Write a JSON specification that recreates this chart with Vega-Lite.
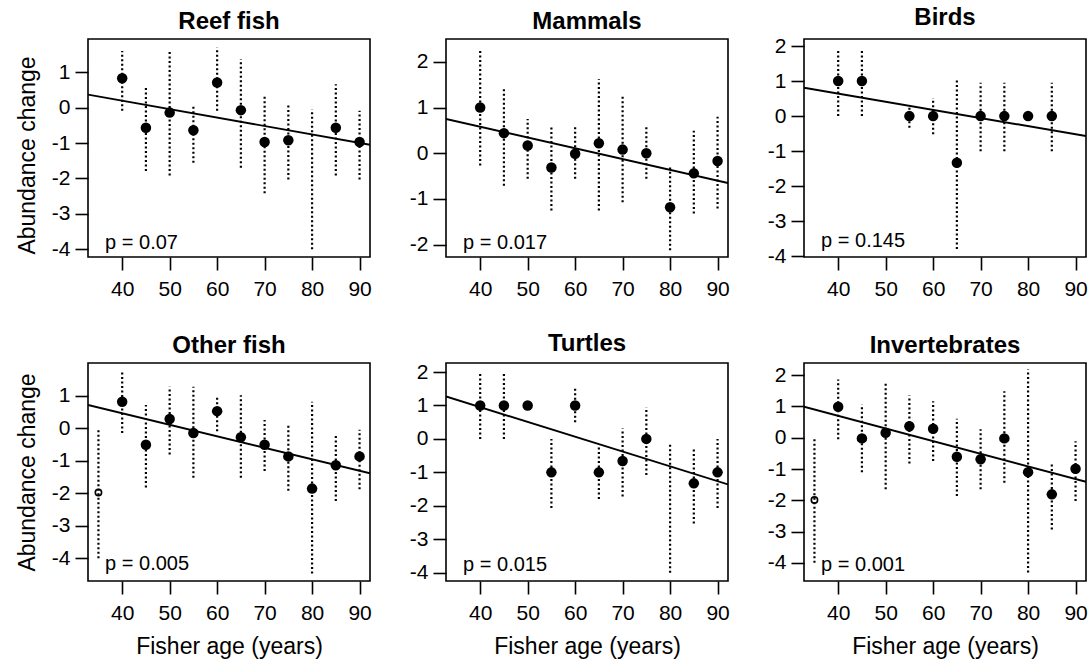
{
  "$schema": "https://vega.github.io/schema/vega-lite/v6.json",
  "background": "white",
  "padding": {"left": 15, "top": 5, "right": 0, "bottom": 0},
  "datasets": {
    "pts": [
      {"g": "Reef fish", "age": 40, "mean": 0.83, "lo": -0.09, "hi": 1.6, "open": false},
      {"g": "Reef fish", "age": 45, "mean": -0.57, "lo": -1.79, "hi": 0.57, "open": false},
      {"g": "Reef fish", "age": 50, "mean": -0.14, "lo": -1.92, "hi": 1.6, "open": false},
      {"g": "Reef fish", "age": 55, "mean": -0.64, "lo": -1.56, "hi": 0.09, "open": false},
      {"g": "Reef fish", "age": 60, "mean": 0.71, "lo": -0.09, "hi": 1.7, "open": false},
      {"g": "Reef fish", "age": 65, "mean": -0.07, "lo": -1.7, "hi": 1.37, "open": false},
      {"g": "Reef fish", "age": 70, "mean": -0.97, "lo": -2.42, "hi": 0.38, "open": false},
      {"g": "Reef fish", "age": 75, "mean": -0.92, "lo": -2.03, "hi": 0.09, "open": false},
      {"g": "Reef fish", "age": 80, "mean": null, "lo": -4.0, "hi": -0.05, "open": false},
      {"g": "Reef fish", "age": 85, "mean": -0.57, "lo": -1.92, "hi": 0.66, "open": false},
      {"g": "Reef fish", "age": 90, "mean": -0.97, "lo": -2.03, "hi": -0.09, "open": false},
      {"g": "Mammals", "age": 40, "mean": 1.0, "lo": -0.27, "hi": 2.24, "open": false},
      {"g": "Mammals", "age": 45, "mean": 0.44, "lo": -0.71, "hi": 1.45, "open": false},
      {"g": "Mammals", "age": 50, "mean": 0.17, "lo": -0.56, "hi": 0.75, "open": false},
      {"g": "Mammals", "age": 55, "mean": -0.31, "lo": -1.25, "hi": 0.58, "open": false},
      {"g": "Mammals", "age": 60, "mean": -0.01, "lo": -0.56, "hi": 0.58, "open": false},
      {"g": "Mammals", "age": 65, "mean": 0.22, "lo": -1.25, "hi": 1.62, "open": false},
      {"g": "Mammals", "age": 70, "mean": 0.08, "lo": -1.07, "hi": 1.27, "open": false},
      {"g": "Mammals", "age": 75, "mean": 0.0, "lo": -0.56, "hi": 0.58, "open": false},
      {"g": "Mammals", "age": 80, "mean": -1.18, "lo": -2.12, "hi": -0.31, "open": false},
      {"g": "Mammals", "age": 85, "mean": -0.44, "lo": -1.32, "hi": 0.49, "open": false},
      {"g": "Mammals", "age": 90, "mean": -0.17, "lo": -1.21, "hi": 0.8, "open": false},
      {"g": "Birds", "age": 40, "mean": 1.0, "lo": 0.0, "hi": 1.9, "open": false},
      {"g": "Birds", "age": 45, "mean": 1.0, "lo": 0.0, "hi": 1.9, "open": false},
      {"g": "Birds", "age": 55, "mean": 0.0, "lo": -0.33, "hi": 0.28, "open": false},
      {"g": "Birds", "age": 60, "mean": 0.0, "lo": -0.52, "hi": 0.52, "open": false},
      {"g": "Birds", "age": 65, "mean": -1.33, "lo": -3.79, "hi": 1.09, "open": false},
      {"g": "Birds", "age": 70, "mean": 0.0, "lo": -1.0, "hi": 0.95, "open": false},
      {"g": "Birds", "age": 75, "mean": 0.0, "lo": -1.0, "hi": 0.95, "open": false},
      {"g": "Birds", "age": 80, "mean": 0.0, "lo": null, "hi": null, "open": false},
      {"g": "Birds", "age": 85, "mean": 0.0, "lo": -1.0, "hi": 0.95, "open": false},
      {"g": "Other fish", "age": 35, "mean": -1.98, "lo": -4.0, "hi": 0.0, "open": true},
      {"g": "Other fish", "age": 40, "mean": 0.81, "lo": -0.15, "hi": 1.72, "open": false},
      {"g": "Other fish", "age": 45, "mean": -0.51, "lo": -1.83, "hi": 0.71, "open": false},
      {"g": "Other fish", "age": 50, "mean": 0.28, "lo": -0.81, "hi": 1.27, "open": false},
      {"g": "Other fish", "age": 55, "mean": -0.15, "lo": -1.53, "hi": 1.27, "open": false},
      {"g": "Other fish", "age": 60, "mean": 0.52, "lo": -0.1, "hi": 0.96, "open": false},
      {"g": "Other fish", "age": 65, "mean": -0.28, "lo": -1.53, "hi": 1.01, "open": false},
      {"g": "Other fish", "age": 70, "mean": -0.51, "lo": -1.32, "hi": 0.25, "open": false},
      {"g": "Other fish", "age": 75, "mean": -0.87, "lo": -1.93, "hi": 0.1, "open": false},
      {"g": "Other fish", "age": 80, "mean": -1.86, "lo": -4.47, "hi": 0.81, "open": false},
      {"g": "Other fish", "age": 85, "mean": -1.14, "lo": -2.24, "hi": -0.2, "open": false},
      {"g": "Other fish", "age": 90, "mean": -0.87, "lo": -1.88, "hi": -0.05, "open": false},
      {"g": "Turtles", "age": 40, "mean": 1.0, "lo": 0.0, "hi": 2.0, "open": false},
      {"g": "Turtles", "age": 45, "mean": 1.0, "lo": 0.0, "hi": 2.0, "open": false},
      {"g": "Turtles", "age": 50, "mean": 1.0, "lo": null, "hi": null, "open": false},
      {"g": "Turtles", "age": 55, "mean": -1.0, "lo": -2.07, "hi": 0.0, "open": false},
      {"g": "Turtles", "age": 60, "mean": 1.0, "lo": 0.5, "hi": 1.54, "open": false},
      {"g": "Turtles", "age": 65, "mean": -1.0, "lo": -1.8, "hi": -0.24, "open": false},
      {"g": "Turtles", "age": 70, "mean": -0.66, "lo": -1.72, "hi": 0.31, "open": false},
      {"g": "Turtles", "age": 75, "mean": 0.0, "lo": -1.08, "hi": 0.95, "open": false},
      {"g": "Turtles", "age": 80, "mean": null, "lo": -4.0, "hi": -0.12, "open": false},
      {"g": "Turtles", "age": 85, "mean": -1.33, "lo": -2.53, "hi": -0.29, "open": false},
      {"g": "Turtles", "age": 90, "mean": -1.0, "lo": -2.07, "hi": 0.0, "open": false},
      {"g": "Invertebrates", "age": 35, "mean": -1.99, "lo": -4.0, "hi": 0.0, "open": true},
      {"g": "Invertebrates", "age": 40, "mean": 0.99, "lo": -0.05, "hi": 1.86, "open": false},
      {"g": "Invertebrates", "age": 45, "mean": -0.02, "lo": -1.1, "hi": 1.06, "open": false},
      {"g": "Invertebrates", "age": 50, "mean": 0.16, "lo": -1.65, "hi": 1.81, "open": false},
      {"g": "Invertebrates", "age": 55, "mean": 0.37, "lo": -0.82, "hi": 1.35, "open": false},
      {"g": "Invertebrates", "age": 60, "mean": 0.29, "lo": -0.74, "hi": 1.17, "open": false},
      {"g": "Invertebrates", "age": 65, "mean": -0.61, "lo": -1.86, "hi": 0.61, "open": false},
      {"g": "Invertebrates", "age": 70, "mean": -0.69, "lo": -1.65, "hi": 0.27, "open": false},
      {"g": "Invertebrates", "age": 75, "mean": -0.02, "lo": -1.44, "hi": 1.49, "open": false},
      {"g": "Invertebrates", "age": 80, "mean": -1.1, "lo": -4.31, "hi": 2.18, "open": false},
      {"g": "Invertebrates", "age": 85, "mean": -1.81, "lo": -2.93, "hi": -0.78, "open": false},
      {"g": "Invertebrates", "age": 90, "mean": -0.99, "lo": -2.02, "hi": -0.11, "open": false}
    ],
    "fit": [
      {"g": "Reef fish", "age": 32.8, "fit": 0.37},
      {"g": "Reef fish", "age": 92.2, "fit": -1.05},
      {"g": "Mammals", "age": 32.8, "fit": 0.75},
      {"g": "Mammals", "age": 92.2, "fit": -0.65},
      {"g": "Birds", "age": 32.8, "fit": 0.81},
      {"g": "Birds", "age": 92.2, "fit": -0.57},
      {"g": "Other fish", "age": 32.8, "fit": 0.71},
      {"g": "Other fish", "age": 92.2, "fit": -1.39},
      {"g": "Turtles", "age": 32.8, "fit": 1.27},
      {"g": "Turtles", "age": 92.2, "fit": -1.36},
      {"g": "Invertebrates", "age": 32.8, "fit": 0.99},
      {"g": "Invertebrates", "age": 92.2, "fit": -1.41}
    ],
    "pvals": [
      {"g": "Reef fish", "p": "p = 0.07"},
      {"g": "Mammals", "p": "p = 0.017"},
      {"g": "Birds", "p": "p = 0.145"},
      {"g": "Other fish", "p": "p = 0.005"},
      {"g": "Turtles", "p": "p = 0.015"},
      {"g": "Invertebrates", "p": "p = 0.001"}
    ]
  },
  "columns": 3,
  "spacing": {"row": 106, "column": 76},
  "bounds": "flush",
  "align": "all",
  "concat": [
    {
      "title": "Reef fish",
      "width": 282, "height": 218,
      "layer": [
        {"data": {"name": "pts"}, "transform": [{"filter": "datum.g === 'Reef fish' && isValid(datum.lo)"}], "mark": {"type": "rule", "color": "black", "strokeDash": [2, 2.5], "strokeWidth": 2.2}, "encoding": {"x": {"field": "age", "type": "quantitative", "scale": {"domain": [32.8, 92.2], "nice": false, "zero": false}, "axis": {"values": [40, 50, 60, 70, 80, 90], "tickCount": 20, "labelExpr": "'' + datum.value", "title": null}}, "y": {"field": "lo", "type": "quantitative", "scale": {"domain": [-4.22, 1.94], "nice": false, "zero": false}, "axis": {"values": [-4, -3, -2, -1, 0, 1], "tickCount": 20, "labelExpr": "'' + datum.value", "title": "Abundance change", "titleY": 116}}, "y2": {"field": "hi"}}},
        {"data": {"name": "fit"}, "transform": [{"filter": "datum.g === 'Reef fish'"}], "mark": {"type": "line", "color": "black", "strokeWidth": 1.9, "clip": true}, "encoding": {"x": {"field": "age", "type": "quantitative"}, "y": {"field": "fit", "type": "quantitative"}}},
        {"data": {"name": "pts"}, "transform": [{"filter": "datum.g === 'Reef fish' && isValid(datum.mean) && !datum.open"}], "mark": {"type": "point", "filled": true, "color": "black", "opacity": 1, "size": 110}, "encoding": {"x": {"field": "age", "type": "quantitative"}, "y": {"field": "mean", "type": "quantitative"}}},
        {"data": {"name": "pvals"}, "transform": [{"filter": "datum.g === 'Reef fish'"}], "mark": {"type": "text", "align": "left", "baseline": "alphabetic", "fontSize": 20, "color": "black"}, "encoding": {"x": {"datum": 36.4}, "y": {"datum": -4.0}, "text": {"field": "p", "type": "nominal"}}}
      ]
    },
    {
      "title": "Mammals",
      "width": 282, "height": 218,
      "layer": [
        {"data": {"name": "pts"}, "transform": [{"filter": "datum.g === 'Mammals' && isValid(datum.lo)"}], "mark": {"type": "rule", "color": "black", "strokeDash": [2, 2.5], "strokeWidth": 2.2}, "encoding": {"x": {"field": "age", "type": "quantitative", "scale": {"domain": [32.8, 92.2], "nice": false, "zero": false}, "axis": {"values": [40, 50, 60, 70, 80, 90], "tickCount": 20, "labelExpr": "'' + datum.value", "title": null}}, "y": {"field": "lo", "type": "quantitative", "scale": {"domain": [-2.27, 2.5], "nice": false, "zero": false}, "axis": {"values": [-2, -1, 0, 1, 2], "tickCount": 20, "labelExpr": "'' + datum.value", "title": null}}, "y2": {"field": "hi"}}},
        {"data": {"name": "fit"}, "transform": [{"filter": "datum.g === 'Mammals'"}], "mark": {"type": "line", "color": "black", "strokeWidth": 1.9, "clip": true}, "encoding": {"x": {"field": "age", "type": "quantitative"}, "y": {"field": "fit", "type": "quantitative"}}},
        {"data": {"name": "pts"}, "transform": [{"filter": "datum.g === 'Mammals' && isValid(datum.mean) && !datum.open"}], "mark": {"type": "point", "filled": true, "color": "black", "opacity": 1, "size": 110}, "encoding": {"x": {"field": "age", "type": "quantitative"}, "y": {"field": "mean", "type": "quantitative"}}},
        {"data": {"name": "pvals"}, "transform": [{"filter": "datum.g === 'Mammals'"}], "mark": {"type": "text", "align": "left", "baseline": "alphabetic", "fontSize": 20, "color": "black"}, "encoding": {"x": {"datum": 36.4}, "y": {"datum": -2.09}, "text": {"field": "p", "type": "nominal"}}}
      ]
    },
    {
      "title": "Birds",
      "width": 282, "height": 218,
      "layer": [
        {"data": {"name": "pts"}, "transform": [{"filter": "datum.g === 'Birds' && isValid(datum.lo)"}], "mark": {"type": "rule", "color": "black", "strokeDash": [2, 2.5], "strokeWidth": 2.2}, "encoding": {"x": {"field": "age", "type": "quantitative", "scale": {"domain": [32.8, 92.2], "nice": false, "zero": false}, "axis": {"values": [40, 50, 60, 70, 80, 90], "tickCount": 20, "labelExpr": "'' + datum.value", "title": null}}, "y": {"field": "lo", "type": "quantitative", "scale": {"domain": [-4.02, 2.2], "nice": false, "zero": false}, "axis": {"values": [-4, -3, -2, -1, 0, 1, 2], "tickCount": 20, "labelExpr": "'' + datum.value", "title": null}}, "y2": {"field": "hi"}}},
        {"data": {"name": "fit"}, "transform": [{"filter": "datum.g === 'Birds'"}], "mark": {"type": "line", "color": "black", "strokeWidth": 1.9, "clip": true}, "encoding": {"x": {"field": "age", "type": "quantitative"}, "y": {"field": "fit", "type": "quantitative"}}},
        {"data": {"name": "pts"}, "transform": [{"filter": "datum.g === 'Birds' && isValid(datum.mean) && !datum.open"}], "mark": {"type": "point", "filled": true, "color": "black", "opacity": 1, "size": 110}, "encoding": {"x": {"field": "age", "type": "quantitative"}, "y": {"field": "mean", "type": "quantitative"}}},
        {"data": {"name": "pvals"}, "transform": [{"filter": "datum.g === 'Birds'"}], "mark": {"type": "text", "align": "left", "baseline": "alphabetic", "fontSize": 20, "color": "black"}, "encoding": {"x": {"datum": 36.4}, "y": {"datum": -3.74}, "text": {"field": "p", "type": "nominal"}}}
      ]
    },
    {
      "title": "Other fish",
      "width": 282, "height": 218,
      "layer": [
        {"data": {"name": "pts"}, "transform": [{"filter": "datum.g === 'Other fish' && isValid(datum.lo)"}], "mark": {"type": "rule", "color": "black", "strokeDash": [2, 2.5], "strokeWidth": 2.2}, "encoding": {"x": {"field": "age", "type": "quantitative", "scale": {"domain": [32.8, 92.2], "nice": false, "zero": false}, "axis": {"values": [40, 50, 60, 70, 80, 90], "tickCount": 20, "labelExpr": "'' + datum.value", "title": "Fisher age (years)"}}, "y": {"field": "lo", "type": "quantitative", "scale": {"domain": [-4.7, 2.0], "nice": false, "zero": false}, "axis": {"values": [-4, -3, -2, -1, 0, 1], "tickCount": 20, "labelExpr": "'' + datum.value", "title": "Abundance change"}}, "y2": {"field": "hi"}}},
        {"data": {"name": "fit"}, "transform": [{"filter": "datum.g === 'Other fish'"}], "mark": {"type": "line", "color": "black", "strokeWidth": 1.9, "clip": true}, "encoding": {"x": {"field": "age", "type": "quantitative"}, "y": {"field": "fit", "type": "quantitative"}}},
        {"data": {"name": "pts"}, "transform": [{"filter": "datum.g === 'Other fish' && isValid(datum.mean) && !datum.open"}], "mark": {"type": "point", "filled": true, "color": "black", "opacity": 1, "size": 110}, "encoding": {"x": {"field": "age", "type": "quantitative"}, "y": {"field": "mean", "type": "quantitative"}}},
        {"data": {"name": "pts"}, "transform": [{"filter": "datum.g === 'Other fish' && datum.open"}], "mark": {"type": "point", "filled": false, "color": "black", "opacity": 1, "size": 40, "strokeWidth": 1.6}, "encoding": {"x": {"field": "age", "type": "quantitative"}, "y": {"field": "mean", "type": "quantitative"}}},
        {"data": {"name": "pvals"}, "transform": [{"filter": "datum.g === 'Other fish'"}], "mark": {"type": "text", "align": "left", "baseline": "alphabetic", "fontSize": 20, "color": "black"}, "encoding": {"x": {"datum": 36.4}, "y": {"datum": -4.37}, "text": {"field": "p", "type": "nominal"}}}
      ]
    },
    {
      "title": "Turtles",
      "width": 282, "height": 218,
      "layer": [
        {"data": {"name": "pts"}, "transform": [{"filter": "datum.g === 'Turtles' && isValid(datum.lo)"}], "mark": {"type": "rule", "color": "black", "strokeDash": [2, 2.5], "strokeWidth": 2.2}, "encoding": {"x": {"field": "age", "type": "quantitative", "scale": {"domain": [32.8, 92.2], "nice": false, "zero": false}, "axis": {"values": [40, 50, 60, 70, 80, 90], "tickCount": 20, "labelExpr": "'' + datum.value", "title": "Fisher age (years)"}}, "y": {"field": "lo", "type": "quantitative", "scale": {"domain": [-4.25, 2.27], "nice": false, "zero": false}, "axis": {"values": [-4, -3, -2, -1, 0, 1, 2], "tickCount": 20, "labelExpr": "'' + datum.value", "title": null}}, "y2": {"field": "hi"}}},
        {"data": {"name": "fit"}, "transform": [{"filter": "datum.g === 'Turtles'"}], "mark": {"type": "line", "color": "black", "strokeWidth": 1.9, "clip": true}, "encoding": {"x": {"field": "age", "type": "quantitative"}, "y": {"field": "fit", "type": "quantitative"}}},
        {"data": {"name": "pts"}, "transform": [{"filter": "datum.g === 'Turtles' && isValid(datum.mean) && !datum.open"}], "mark": {"type": "point", "filled": true, "color": "black", "opacity": 1, "size": 110}, "encoding": {"x": {"field": "age", "type": "quantitative"}, "y": {"field": "mean", "type": "quantitative"}}},
        {"data": {"name": "pvals"}, "transform": [{"filter": "datum.g === 'Turtles'"}], "mark": {"type": "text", "align": "left", "baseline": "alphabetic", "fontSize": 20, "color": "black"}, "encoding": {"x": {"datum": 36.4}, "y": {"datum": -3.95}, "text": {"field": "p", "type": "nominal"}}}
      ]
    },
    {
      "title": "Invertebrates",
      "width": 282, "height": 218,
      "layer": [
        {"data": {"name": "pts"}, "transform": [{"filter": "datum.g === 'Invertebrates' && isValid(datum.lo)"}], "mark": {"type": "rule", "color": "black", "strokeDash": [2, 2.5], "strokeWidth": 2.2}, "encoding": {"x": {"field": "age", "type": "quantitative", "scale": {"domain": [32.8, 92.2], "nice": false, "zero": false}, "axis": {"values": [40, 50, 60, 70, 80, 90], "tickCount": 20, "labelExpr": "'' + datum.value", "title": "Fisher age (years)"}}, "y": {"field": "lo", "type": "quantitative", "scale": {"domain": [-4.58, 2.39], "nice": false, "zero": false}, "axis": {"values": [-4, -3, -2, -1, 0, 1, 2], "tickCount": 20, "labelExpr": "'' + datum.value", "title": null}}, "y2": {"field": "hi"}}},
        {"data": {"name": "fit"}, "transform": [{"filter": "datum.g === 'Invertebrates'"}], "mark": {"type": "line", "color": "black", "strokeWidth": 1.9, "clip": true}, "encoding": {"x": {"field": "age", "type": "quantitative"}, "y": {"field": "fit", "type": "quantitative"}}},
        {"data": {"name": "pts"}, "transform": [{"filter": "datum.g === 'Invertebrates' && isValid(datum.mean) && !datum.open"}], "mark": {"type": "point", "filled": true, "color": "black", "opacity": 1, "size": 110}, "encoding": {"x": {"field": "age", "type": "quantitative"}, "y": {"field": "mean", "type": "quantitative"}}},
        {"data": {"name": "pts"}, "transform": [{"filter": "datum.g === 'Invertebrates' && datum.open"}], "mark": {"type": "point", "filled": false, "color": "black", "opacity": 1, "size": 40, "strokeWidth": 1.6}, "encoding": {"x": {"field": "age", "type": "quantitative"}, "y": {"field": "mean", "type": "quantitative"}}},
        {"data": {"name": "pvals"}, "transform": [{"filter": "datum.g === 'Invertebrates'"}], "mark": {"type": "text", "align": "left", "baseline": "alphabetic", "fontSize": 20, "color": "black"}, "encoding": {"x": {"datum": 36.4}, "y": {"datum": -4.26}, "text": {"field": "p", "type": "nominal"}}}
      ]
    }
  ],
  "config": {
    "font": "Liberation Sans",
    "view": {"stroke": "black", "strokeWidth": 1.6},
    "axis": {
      "domain": false, "grid": false, "labelOverlap": false,
      "tickColor": "black", "tickSize": 13, "tickWidth": 1.6,
      "labelColor": "black", "labelFontSize": 21, "labelFont": "Liberation Sans",
      "titleColor": "black", "titleFontSize": 23, "titleFontWeight": "normal", "titleFont": "Liberation Sans"
    },
    "axisX": {"labelPadding": 8, "titlePadding": 12},
    "axisY": {"labelPadding": 5, "titlePadding": 12},
    "title": {"fontSize": 24, "fontWeight": "bold", "font": "Liberation Sans", "color": "black", "baseline": "alphabetic", "offset": 5, "frame": "group", "anchor": "middle"}
  }
}
